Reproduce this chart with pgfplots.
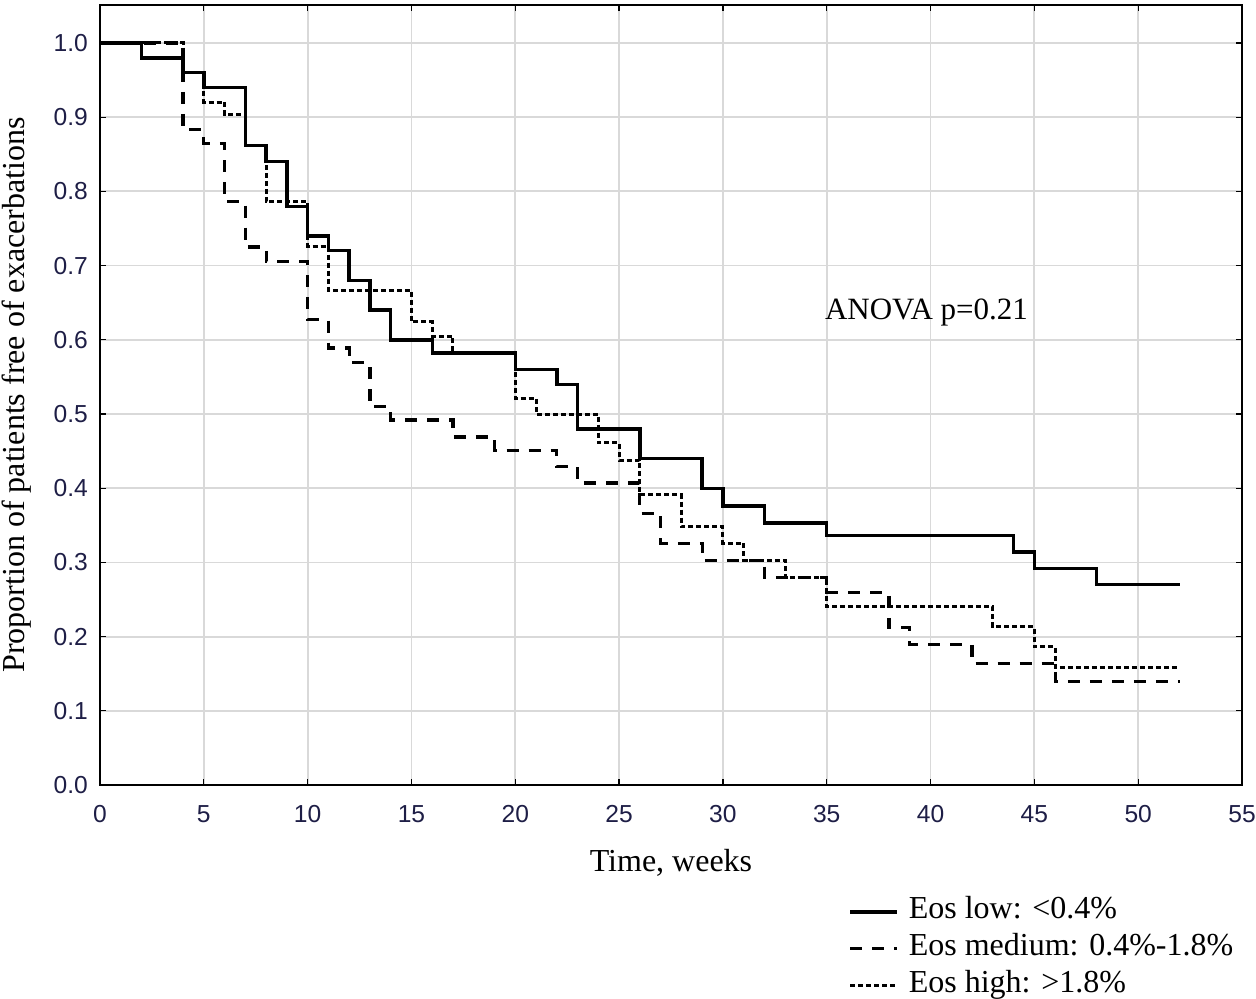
\documentclass[border=0pt]{standalone}
\usepackage{fontspec}
\setmainfont{Liberation Serif}
\newfontfamily\ticksans{Liberation Sans}
\usepackage{pgfplots}
\pgfplotsset{compat=1.18}
\definecolor{gridc}{RGB}{217,217,217}
\definecolor{tickc}{RGB}{30,30,70}

\begin{document}
\begin{tikzpicture}
\path[use as bounding box] (-50pt,-106.5pt) rectangle (578pt,392.5pt);
\begin{axis}[
  scale only axis, width=571pt, height=390pt,
  at={(0,0)}, anchor=south west,
  xmin=0, xmax=55, ymin=0, ymax=1.0512,
  xtick={0,5,10,15,20,25,30,35,40,45,50,55},
  ytick={0,0.1,0.2,0.3,0.4,0.5,0.6,0.7,0.8,0.9,1.0},
  yticklabel style={xshift=-2.5pt, /pgf/number format/fixed, /pgf/number format/fixed zerofill, /pgf/number format/precision=1},
  /pgf/number format/assume math mode=true,
  grid=major, major grid style={gridc, line width=0.9pt},
  axis line style={line width=0.8pt},
  tick align=inside, major tick length=3pt, tick style={black, line width=0.6pt},
  ticklabel style={font=\ticksans\fontsize{12.3}{14}\selectfont, text=tickc},
  xticklabel style={yshift=-6.5pt},
  xlabel={Time, weeks},
  ylabel={Proportion of patients free of exacerbations},
  every axis x label/.style={at={(axis description cs:0.5,0)}, yshift=-39pt, anchor=center, font=\fontsize{16}{18}\selectfont},
  every axis y label/.style={at={(axis description cs:0,0.5)}, xshift=-41.5pt, rotate=90, anchor=center, font=\fontsize{16}{18}\selectfont},
  legend style={at={(axis description cs:0.655,-0.21)}, anchor=west, draw=none, fill=none, inner sep=0pt, row sep=3.5pt,
    nodes={inner sep=1pt, text height=10pt, text depth=3pt, font=\fontsize{16}{18}\selectfont},
    /tikz/every odd column/.style={column sep=4pt}},
  legend cell align=left,
  legend image code/.code={\draw[#1] (0pt,0pt) -- (23.5pt,0pt);},
]
\addplot[const plot, black, line width=1.7pt] coordinates {
(0,1) (2,0.98) (4,0.96) (5,0.94) (7,0.862) (8,0.84) (9,0.78) (10,0.74) (11,0.72) (12,0.68) (13,0.64) (14,0.60) (16,0.582) (20,0.56) (22,0.54) (23,0.48) (26,0.44) (29,0.40) (30,0.376) (32,0.353) (35,0.336) (44,0.314) (45,0.292) (48,0.27) (52,0.27)
};
\addlegendentry{Eos low: <0.4\%}
\addplot[const plot, black, line width=1.6pt, dash pattern=on 6pt off 5pt] coordinates {
(0,1) (4,0.883) (5,0.865) (6,0.786) (7,0.725) (8,0.705) (10,0.627) (11,0.589) (12,0.569) (13,0.51) (14,0.492) (17,0.469) (19,0.451) (22,0.429) (23,0.407) (26,0.366) (27,0.326) (29,0.303) (32,0.28) (35,0.259) (38,0.212) (39,0.189) (42,0.164) (46,0.14) (52,0.14)
};
\addlegendentry{Eos medium: 0.4\%-1.8\%}
\addplot[const plot, black, line width=1.5pt, dash pattern=on 2.5pt off 1.5pt] coordinates {
(0,1) (4,0.96) (5,0.92) (6,0.903) (7,0.862) (8,0.786) (10,0.726) (11,0.667) (15,0.624) (16,0.605) (17,0.583) (20,0.521) (21,0.50) (24,0.461) (25,0.438) (26,0.391) (28,0.348) (30,0.326) (31,0.303) (33,0.28) (35,0.24) (43,0.213) (45,0.186) (46,0.159) (52,0.159)
};
\addlegendentry{Eos high: >1.8\%}
\node[anchor=west, font=\fontsize{15.5}{18}\selectfont, inner sep=0pt] at (axis cs:34.9,0.637) {ANOVA p=0.21};
\end{axis}
\end{tikzpicture}
\end{document}
